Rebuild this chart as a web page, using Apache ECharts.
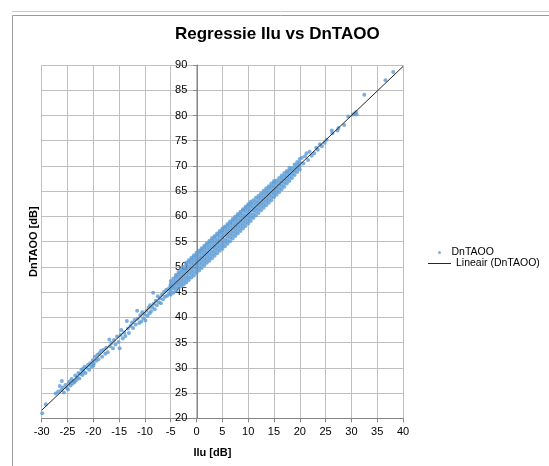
<!DOCTYPE html>
<html>
<head>
<meta charset="utf-8">
<script src="https://cdn.jsdelivr.net/npm/echarts@6/dist/echarts.min.js"></script>
<style>
  html, body { margin: 0; padding: 0; background: #fff; }
  #chart { width: 549px; height: 466px; }
</style>
</head>
<body>
<div id="chart"></div>
<script>
// trend line end points (Lineair)
const trendX = [-30, 40]
const trendY = [21.6, 89.7]

// scattered points, low end of the cloud
const lowPoints = [
  [-29.9, 21.0], [-29.2, 22.8], [-27.3, 24.9], [-26.8, 25.3], [-26.1, 27.4],
  [-26.5, 26.4], [-26.2, 25.6], [-25.9, 26.1], [-25.7, 25.1], [-25.4, 26.6],
  [-25.1, 26.0], [-24.9, 25.7], [-24.6, 27.3], [-24.4, 26.5], [-24.2, 27.8],
  [-24.0, 26.9], [-23.8, 27.4], [-23.5, 28.5], [-23.3, 27.6], [-23.1, 28.1],
  [-22.9, 29.0], [-22.7, 27.9], [-22.5, 28.8], [-22.3, 29.6], [-22.1, 28.6],
  [-21.9, 29.2], [-21.7, 30.2], [-21.5, 29.0], [-21.3, 30.0], [-21.0, 30.6],
  [-20.8, 29.6], [-20.6, 30.9], [-20.4, 30.2], [-20.1, 31.5], [-19.9, 30.8],
  [-19.7, 32.2], [-19.4, 31.4], [-19.2, 32.6], [-19.0, 31.7], [-24.8, 26.9],
  [-23.6, 27.2], [-22.0, 29.8], [-20.0, 30.4],
  [-18.8, 32.9], [-18.5, 33.4], [-18.3, 32.2], [-18.0, 33.6], [-17.7, 32.8],
  [-17.5, 34.0], [-17.2, 33.1], [-16.9, 35.6], [-16.8, 34.3], [-16.5, 34.9],
  [-16.2, 33.9], [-16.0, 35.5], [-15.7, 34.6], [-15.4, 36.2], [-15.1, 35.1],
  [-14.9, 33.9], [-14.7, 36.5], [-14.6, 37.5], [-14.3, 35.8], [-14.0, 37.0],
  [-13.8, 36.3], [-13.5, 39.3], [-13.3, 37.8], [-13.1, 36.9],
  [-12.8, 38.3], [-12.5, 39.0], [-12.3, 37.9], [-12.0, 39.5], [-11.8, 38.6],
  [-11.5, 41.3], [-11.4, 39.7], [-11.1, 38.9], [-10.9, 40.4], [-10.7, 39.2],
  [-10.5, 41.0], [-10.3, 39.8], [-10.1, 40.6], [-9.9, 39.4], [-9.7, 41.3],
  [-9.5, 40.3], [-9.3, 41.9], [-9.1, 40.8], [-9.0, 42.4], [-8.8, 41.2],
  [-8.6, 42.0], [-8.4, 44.9], [-8.3, 42.7], [-8.1, 41.6], [-7.9, 43.3],
  [-7.7, 42.4], [-7.5, 44.2], [-7.3, 43.0], [-7.1, 43.8], [-6.9, 42.8],
  [-6.7, 44.5], [-6.5, 43.6], [-6.3, 45.0], [-6.1, 44.1], [-5.9, 45.4],
  [-5.7, 44.3], [-5.5, 45.6], [-5.3, 44.8], [-5.1, 46.2]
]

// dense part of the cloud: x with the y values read in that column
const denseCols = [
  [-5.0, [44.5, 45.2, 45.9, 46.6, 47.2]],
  [-4.5, [44.9, 45.7, 46.3, 47.0, 47.7]],
  [-4.0, [45.2, 45.9, 46.6, 47.3, 48.0, 48.4]],
  [-3.5, [45.8, 46.5, 47.1, 47.8, 48.5, 49.0]],
  [-3.0, [46.1, 46.8, 47.5, 48.2, 48.9, 49.5]],
  [-2.5, [46.5, 47.2, 47.9, 48.6, 49.3, 50.0]],
  [-2.0, [46.9, 47.6, 48.3, 49.0, 49.7, 50.4, 50.8]],
  [-1.5, [47.4, 48.0, 48.8, 49.5, 50.2, 50.9, 51.3]],
  [-1.0, [47.9, 48.6, 49.3, 50.0, 50.7, 51.4, 51.8]],
  [-0.5, [48.3, 49.0, 49.8, 50.5, 51.2, 51.9, 52.3]],
  [0.0, [48.8, 49.5, 50.2, 50.9, 51.6, 52.3, 52.8]],
  [0.5, [49.3, 50.0, 50.7, 51.4, 52.1, 52.8, 53.2]],
  [1.0, [49.8, 50.5, 51.2, 51.9, 52.6, 53.3, 53.7]],
  [1.5, [50.3, 51.0, 51.7, 52.4, 53.1, 53.8, 54.2]],
  [2.0, [50.8, 51.5, 52.2, 52.9, 53.6, 54.3, 54.7]],
  [2.5, [51.2, 51.9, 52.6, 53.4, 54.1, 54.8, 55.2]],
  [3.0, [51.7, 52.4, 53.1, 53.9, 54.6, 55.3, 55.7]],
  [3.5, [52.2, 52.9, 53.6, 54.3, 55.0, 55.7, 56.1]],
  [4.0, [52.7, 53.4, 54.1, 54.8, 55.5, 56.2, 56.6]],
  [4.5, [53.2, 53.9, 54.6, 55.3, 56.0, 56.7, 57.1]],
  [5.0, [53.6, 54.3, 55.0, 55.8, 56.5, 57.2, 57.6]],
  [5.5, [54.1, 54.8, 55.5, 56.3, 57.0, 57.7, 58.0]],
  [6.0, [54.6, 55.3, 56.0, 56.7, 57.4, 58.1, 58.5]],
  [6.5, [55.1, 55.8, 56.5, 57.2, 57.9, 58.6, 59.0]],
  [7.0, [55.6, 56.3, 57.0, 57.7, 58.4, 59.1, 59.5]],
  [7.5, [56.1, 56.8, 57.5, 58.2, 58.9, 59.6, 60.0]],
  [8.0, [56.6, 57.3, 58.0, 58.7, 59.4, 60.1, 60.5]],
  [8.5, [57.1, 57.8, 58.5, 59.2, 59.9, 60.6, 60.9]],
  [9.0, [57.6, 58.3, 59.0, 59.7, 60.4, 61.1, 61.4]],
  [9.5, [58.1, 58.8, 59.5, 60.2, 60.9, 61.6, 61.9]],
  [10.0, [58.6, 59.3, 60.0, 60.7, 61.4, 62.1, 62.4]],
  [10.5, [59.1, 59.8, 60.5, 61.2, 61.9, 62.5, 62.9]],
  [11.0, [59.7, 60.4, 61.1, 61.8, 62.5, 63.2]],
  [11.5, [60.2, 60.9, 61.6, 62.3, 63.0, 63.7]],
  [12.0, [60.7, 61.4, 62.1, 62.8, 63.5, 64.1]],
  [12.5, [61.2, 61.9, 62.6, 63.3, 64.0, 64.6]],
  [13.0, [61.7, 62.4, 63.1, 63.8, 64.5, 65.1]],
  [13.5, [62.2, 62.9, 63.6, 64.3, 65.0, 65.6]],
  [14.0, [62.7, 63.4, 64.1, 64.8, 65.5, 66.0]],
  [14.5, [63.2, 63.9, 64.6, 65.3, 66.0, 66.5]],
  [15.0, [63.8, 64.5, 65.2, 65.9, 66.6, 67.0]],
  [15.5, [64.3, 65.0, 65.7, 66.4, 67.1]],
  [16.0, [64.8, 65.5, 66.2, 66.9, 67.6]],
  [16.5, [65.4, 66.1, 66.8, 67.5, 68.1]],
  [17.0, [65.9, 66.6, 67.3, 68.0, 68.6]],
  [17.5, [66.5, 67.2, 67.9, 68.6, 69.0]],
  [18.0, [67.0, 67.7, 68.4, 69.1, 69.6]],
  [18.5, [67.6, 68.3, 69.0, 69.6]],
  [19.0, [68.2, 68.9, 69.6, 70.3]],
  [19.5, [68.8, 69.5, 70.2, 70.8]],
  [20.0, [69.3, 70.0, 70.7, 71.4]]
]

// scattered points, high end of the cloud
const highPoints = [
  [20.4, 71.6], [20.7, 70.5], [21.0, 71.9], [21.3, 72.5], [21.6, 71.2],
  [21.9, 72.8], [22.3, 72.0], [22.8, 72.5], [23.2, 73.6], [23.5, 73.2],
  [23.9, 74.3], [24.3, 73.9], [24.8, 74.6], [25.2, 75.2], [26.2, 77.0],
  [26.3, 76.5], [27.3, 77.0], [27.5, 77.5], [28.6, 78.1], [29.4, 79.8],
  [30.3, 80.2], [30.6, 80.4], [30.9, 80.7], [31.0, 80.2], [32.5, 84.1],
  [36.6, 87.0], [38.1, 88.6]
]

const scatterData = lowPoints.slice()
denseCols.forEach(function (col) {
  col[1].forEach(function (y) { scatterData.push([col[0], y]) })
})
highPoints.forEach(function (p) { scatterData.push(p) })

const lineData = trendX.map(function (x, i) { return [x, trendY[i]] })

const chart = echarts.init(document.getElementById('chart'))
const baseFont = 'Liberation Sans'

chart.setOption({
  animation: false,
  textStyle: { fontFamily: baseFont },
  title: {
    text: 'Regressie Ilu vs DnTAOO',
    left: 170,
    top: 21,
    textStyle: { fontSize: 17, fontWeight: 'bold', color: '#000', fontFamily: baseFont }
  },
  legend: [
    {
      data: [{ name: 'DnTAOO', icon: 'circle' }],
      left: 438, top: 247, padding: 0,
      itemWidth: 14, itemHeight: 3,
      textStyle: { fontSize: 10.5, color: '#000' }
    },
    {
      data: [{ name: 'Lineair (DnTAOO)', icon: 'rect' }],
      left: 428, top: 258, padding: 0,
      itemWidth: 23, itemHeight: 1,
      textStyle: { fontSize: 10.5, color: '#000' }
    }
  ],
  grid: {
    left: 41.7, right: 146, top: 65, bottom: 47.7,
    containLabel: false,
    outerBoundsMode: 'none'
  },
  xAxis: {
    type: 'value',
    min: -30, max: 40, interval: 5,
    name: 'Ilu [dB]',
    nameLocation: 'middle',
    nameGap: 29,
    nameTextStyle: { fontSize: 11, fontWeight: 'bold', color: '#000', padding: [0, 20, 0, 0] },
    axisLine: { onZero: false, lineStyle: { color: '#868686', width: 1 } },
    axisTick: { show: true, length: 4, lineStyle: { color: '#868686' } },
    axisLabel: { fontSize: 11, color: '#000', margin: 8 },
    splitLine: { show: true, lineStyle: { color: '#bfbfbf', width: 1 } }
  },
  yAxis: {
    type: 'value',
    min: 20, max: 90, interval: 5,
    position: 'left',
    // the axis crosses at Ilu = 0, so shift it in from the left edge
    offset: -155.6,
    name: 'DnTAOO [dB]',
    nameLocation: 'middle',
    nameGap: 158,
    nameTextStyle: { fontSize: 11, fontWeight: 'bold', color: '#000' },
    axisLine: { onZero: false, lineStyle: { color: '#868686', width: 1 } },
    axisTick: { show: true, length: 4, lineStyle: { color: '#868686' } },
    axisLabel: { fontSize: 11, color: '#000', margin: 10 },
    splitLine: { show: true, lineStyle: { color: '#bfbfbf', width: 1 } }
  },
  series: [
    {
      name: 'DnTAOO',
      type: 'scatter',
      data: scatterData,
      symbol: 'circle',
      symbolSize: 4,
      itemStyle: { color: '#5b9bd5' },
      z: 2
    },
    {
      name: 'Lineair (DnTAOO)',
      type: 'line',
      data: lineData,
      showSymbol: false,
      symbol: 'none',
      lineStyle: { color: '#262626', width: 1 },
      itemStyle: { color: '#262626' },
      z: 3
    }
  ],
  graphic: [
    { type: 'line', shape: { x1: 12, y1: 11.5, x2: 549, y2: 11.5 }, style: { stroke: '#c8c8c8', lineWidth: 1 } },
    { type: 'line', shape: { x1: 12.5, y1: 15.5, x2: 549, y2: 15.5 }, style: { stroke: '#9a9a9a', lineWidth: 1 } },
    { type: 'line', shape: { x1: 12.5, y1: 15.5, x2: 12.5, y2: 466 }, style: { stroke: '#9a9a9a', lineWidth: 1 } }
  ]
})
</script>
</body>
</html>
